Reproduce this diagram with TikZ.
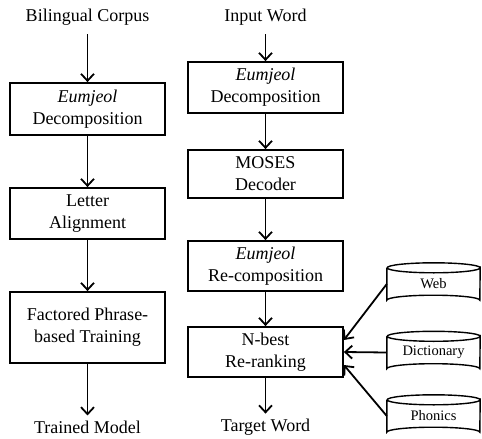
\documentclass[tikz,border=0pt]{standalone}
\usepackage{fontspec}
\setmainfont{Liberation Serif}
\usetikzlibrary{arrows.meta}
\begin{document}
\begin{tikzpicture}[x=1pt,y=-1pt,
  every node/.style={font=\fontsize{18}{22}\selectfont},
  box/.style={draw,line width=1.8pt,minimum width=155pt,align=center,inner sep=0pt},
  lbl/.style={inner sep=0pt},
  arr/.style={line width=1.8pt,-{Straight Barb[length=7pt,width=13pt,line width=1.8pt]}},
  cyl/.style={minimum width=93pt,minimum height=42pt,inner sep=0pt,font=\fontsize{14.5}{17}\selectfont}
]
\useasboundingbox (0,0) rectangle (482,439);
% left column
\node[lbl] (bc) at (87.5,17) {Bilingual Corpus};
\node[box,minimum height=52pt] (l1) at (87.5,109) {\textit{Eumjeol}\\Decomposition};
\node[box,minimum height=51pt] (l2) at (87.5,213.5) {Letter\\Alignment};
\node[box,minimum height=71pt] (l3) at (87.5,327.5) {Factored Phrase-\\based Training};
\node[lbl] (tm) at (87.5,427) {Trained Model};
\draw[arr,shorten <=9pt] (bc) -- (l1);
\draw[arr] (l1) -- (l2);
\draw[arr] (l2) -- (l3);
\draw[arr,shorten >=5pt] (l3) -- (tm);
% right column
\node[lbl] (iw) at (265.5,17) {Input Word};
\node[box,minimum height=51pt] (r1) at (265.5,87.5) {\textit{Eumjeol}\\Decomposition};
\node[box,minimum height=48pt] (r2) at (265.5,174) {MOSES\\Decoder};
\node[box,minimum height=50pt] (r3) at (265.5,266) {\textit{Eumjeol}\\Re-composition};
\node[box,minimum height=50pt] (r4) at (265.5,352) {N-best\\Re-ranking};
\node[lbl] (tw) at (265.5,427) {Target Word};
\draw[arr,shorten <=9pt] (iw) -- (r1);
\draw[arr] (r1) -- (r2);
\draw[arr] (r2) -- (r3);
\draw[arr] (r3) -- (r4);
\draw[arr,shorten >=5pt] (r4) -- (tw);
% databases
\foreach \nm/\txt/\cy in {web/Web/284, dic/Dictionary/352.5, pho/Phonics/416}{
  \node[cyl] (\nm) at (433.5,\cy) {\raisebox{-3pt}{\txt}};
  \draw[line width=1.4pt]
    ([yshift=-5pt]\nm.north west) -- ([yshift=5pt]\nm.south west)
    arc[start angle=180,end angle=0,x radius=46.5pt,y radius=5pt]
    -- ([yshift=-5pt]\nm.north east)
    arc[start angle=0,end angle=-180,x radius=46.5pt,y radius=5pt]
    arc[start angle=180,end angle=0,x radius=46.5pt,y radius=5pt];
}
\draw[arr] (web.west) -- ([yshift=12pt]r4.east);
\draw[arr] (dic.west) -- (r4.east);
\draw[arr] (pho.west) -- ([yshift=-13pt]r4.east);
\end{tikzpicture}
\end{document}
